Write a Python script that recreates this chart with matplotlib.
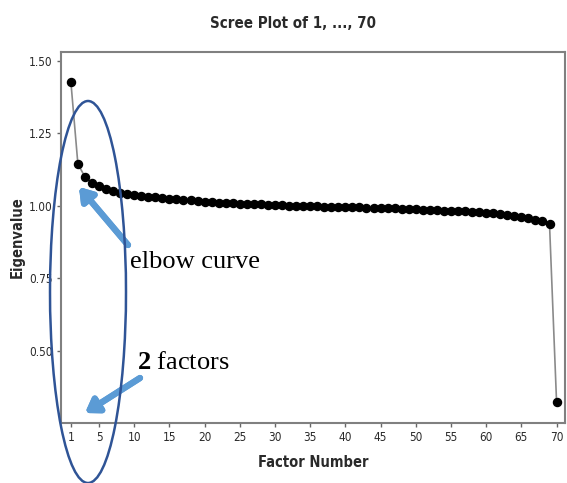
import matplotlib
matplotlib.use('Agg')
import matplotlib.pyplot as plt
from matplotlib.patches import Ellipse

# eigenvalues, factors 1..70
factor_number = list(range(1, 71))
eigenvalue = [1.428, 1.144, 1.100, 1.080, 1.067, 1.058, 1.051, 1.046, 1.041, 1.037,
              1.034, 1.031, 1.029, 1.027, 1.025, 1.023, 1.021, 1.019, 1.017, 1.015,
              1.013, 1.011, 1.010, 1.009, 1.008, 1.007, 1.006, 1.005, 1.004, 1.003,
              1.002, 1.001, 1.000, 0.999, 0.998, 0.998, 0.997, 0.997, 0.996, 0.996,
              0.995, 0.995, 0.994, 0.994, 0.993, 0.992, 0.991, 0.990, 0.989, 0.988,
              0.987, 0.986, 0.985, 0.984, 0.983, 0.982, 0.981, 0.980, 0.978, 0.976,
              0.974, 0.972, 0.969, 0.966, 0.962, 0.958, 0.953, 0.947, 0.937, 0.325]
x_ticks = [1, 5, 10, 15, 20, 25, 30, 35, 40, 45, 50, 55, 60, 65, 70]
y_ticks = [0.50, 0.75, 1.00, 1.25, 1.50]

W, H = 567, 483

plt.rcParams['mathtext.fontset'] = 'custom'
plt.rcParams['mathtext.rm'] = 'Liberation Serif'
plt.rcParams['mathtext.bf'] = 'Liberation Serif:bold'

fig = plt.figure(figsize=(W / 100, H / 100), dpi=100)
ax = fig.add_axes([61 / W, 1 - 423 / H, (565 - 61) / W, (423 - 52) / H])

ax.plot(factor_number, eigenvalue, '-', color='#8a8a8a', lw=1.2, zorder=2)
ax.plot(factor_number, eigenvalue, 'o', color='black', ms=5.8, zorder=3)

ax.set_xlim(-0.4, 71.2)
ax.set_ylim(0.252, 1.53)
ax.set_xticks(x_ticks)
ax.set_yticks(y_ticks)
ax.set_yticklabels([f'{v:.2f}' for v in y_ticks])
for lab in ax.get_xticklabels() + ax.get_yticklabels():
    lab.set_fontstretch('condensed'); lab.set_fontsize(8.5); lab.set_color('#2a2a2a')
ax.tick_params(length=3, width=1, color='#666666', pad=3)
for s in ax.spines.values():
    s.set_color('#808080'); s.set_linewidth(1.5)

ax.set_xlabel('Factor Number', fontstretch='condensed', fontweight='bold', fontsize=10.5,
              color='#2a2a2a', labelpad=8)
ax.set_ylabel('Eigenvalue', fontstretch='condensed', fontweight='bold', fontsize=10.5,
              color='#2a2a2a', labelpad=3)
fig.text(293 / W, 1 - 23 / H, 'Scree Plot of 1, ..., 70', fontstretch='condensed',
         fontweight='bold', fontsize=10.8, color='#2a2a2a', ha='center', va='center')

# annotations (pixel positions measured from the top-left of the picture)
def fp(x, y):
    return (x / W, 1 - y / H)

ell = Ellipse(fp(88, 292), 76 / W, 382 / H, transform=fig.transFigure,
              fill=False, edgecolor='#2F5496', lw=1.8, zorder=5)
fig.add_artist(ell)

arrow = dict(arrowstyle='-|>,head_length=0.75,head_width=0.5', color='#5B9BD5', lw=4.5,
             shrinkA=0, shrinkB=0)
fig.add_artist(plt.annotate('', xy=fp(79, 187), xytext=fp(128, 245),
                            xycoords='figure fraction', textcoords='figure fraction', arrowprops=arrow))
fig.add_artist(plt.annotate('', xy=fp(85, 413), xytext=fp(140, 378),
                            xycoords='figure fraction', textcoords='figure fraction', arrowprops=arrow))

fig.text(130 / W, 1 - 262 / H, 'elbow curve', family='Liberation Serif', fontsize=19,
         va='center', ha='left')
fig.text(137 / W, 1 - 363 / H, r'$\mathbf{2}$ factors', family='Liberation Serif', fontsize=19,
         va='center', ha='left')

fig.savefig('out.png', dpi=100)
